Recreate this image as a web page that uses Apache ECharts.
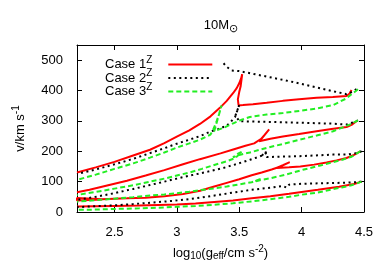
<!DOCTYPE html>
<html><head><meta charset="utf-8">
<script src="https://cdn.jsdelivr.net/npm/echarts@6/dist/echarts.min.js"></script>
<style>html,body{margin:0;padding:0;background:#fff}#c{width:390px;height:273px}</style>
</head><body><div id="c"></div>
<script>
const xTicks = [2.5, 3, 3.5, 4, 4.5];
const yTicks = [0, 100, 200, 300, 400, 500];
const caseNames = ['Case 1', 'Case 2', 'Case 3'];

// Case 1 (red, solid)
const case1_v400 = [[4.40,402],[4.385,390],[4.36,382],[4.25,379],[4.12,376],[3.98,371],[3.85,366],[3.72,360],[3.61,355],[3.53,352],[3.495,351],[3.489,371],[3.50,395],[3.511,413],[3.524,454],[3.515,440],[3.50,424],[3.48,408],[3.452,392],[3.40,366],[3.345,343],[3.27,315],[3.185,290],[3.10,269],[3.0,248],[2.9,227],[2.785,205],[2.65,186],[2.5,165],[2.35,147],[2.2,130]];
const case1_v300 = [[4.44,299],[4.40,287],[4.36,280],[4.24,273],[4.12,266],[3.98,257],[3.85,249],[3.75,241],[3.66,233],[3.70,252],[3.74,272],[3.68,242],[3.62,226],[3.55,218],[3.452,206],[3.35,193],[3.185,174],[3.05,157],[2.9,138],[2.75,120],[2.6,103],[2.45,88],[2.3,73],[2.2,65]];
const case1_v200 = [[4.47,200],[4.42,188],[4.36,178],[4.28,170],[4.2,163],[4.1,156],[3.99,150],[3.90,147],[3.80,145],[3.85,154],[3.905,164],[3.82,148],[3.76,140],[3.68,130],[3.6,121],[3.5,108],[3.4,96],[3.3,84],[3.186,70],[3.05,59],[2.9,52],[2.75,47],[2.6,45],[2.5,44],[2.4,42],[2.2,46],[2.2,38],[2.4,41]];
const case1_v100 = [[4.48,100],[4.42,92],[4.3,83],[4.13,73],[4.0,66],[3.9,60],[3.75,52],[3.6,45],[3.45,38],[3.3,33],[3.15,28],[3.0,25],[2.85,23],[2.7,21],[2.5,20],[2.35,19],[2.2,18]];

// Case 2 (black, dotted)
const case2_v400 = [[4.44,405],[4.40,395],[4.36,388],[4.25,398],[4.07,415],[3.9,431],[3.72,446],[3.6,456],[3.5,464],[3.44,466],[3.40,478],[3.37,492]];
const case2_v300 = [[4.452,302],[4.417,296],[4.359,288],[4.252,291],[3.985,294],[3.719,297],[3.50,299],[3.47,318],[3.50,352],[3.466,312],[3.43,296],[3.40,284],[3.33,273],[3.27,265],[3.186,250],[3.1,238],[3.0,225],[2.9,210],[2.785,194],[2.65,175],[2.5,157],[2.35,140],[2.2,125]];
const case2_v200 = [[4.48,200],[4.44,194],[4.36,189],[4.25,189],[3.985,184],[3.72,181],[3.68,190],[3.73,200],[3.70,188],[3.586,172],[3.48,158],[3.372,145],[3.25,133],[3.105,120],[3.0,110],[2.9,100],[2.785,89],[2.65,76],[2.5,62],[2.35,50],[2.2,40]];
const case2_v100 = [[4.48,100],[4.40,97],[4.2,95],[4.0,93],[3.9,90],[3.88,80],[3.85,86],[3.75,80],[3.6,73],[3.45,64],[3.33,56],[3.2,48],[3.07,41],[2.95,36],[2.8,31],[2.65,26],[2.5,22],[2.35,19],[2.2,16]];

// Case 3 (green, dashed)
const case3_v400 = [[4.452,404],[4.43,397],[4.40,388],[4.359,374],[4.30,362],[4.252,352],[4.12,341],[3.985,333],[3.85,326],[3.719,321],[3.585,313],[3.52,304],[3.452,292],[3.38,278],[3.30,266],[3.33,310],[3.359,351],[3.34,325],[3.32,300],[3.29,270],[3.27,255],[3.185,238],[3.1,226],[3.0,212],[2.9,196],[2.785,179],[2.65,160],[2.5,142],[2.35,123],[2.2,106]];
const case3_v300 = [[4.452,302],[4.42,295],[4.385,288],[4.32,277],[4.252,266],[4.12,252],[3.985,238],[3.85,224],[3.719,211],[3.585,196],[3.50,188],[3.45,180],[3.49,192],[3.52,198],[3.47,178],[3.4,167],[3.3,155],[3.2,142],[3.1,130],[3.0,120],[2.9,110],[2.785,100],[2.65,88],[2.5,77],[2.35,66],[2.2,56]];
const case3_v200 = [[4.47,200],[4.44,192],[4.40,182],[4.34,174],[4.28,167],[4.15,153],[4.01,139],[3.88,124],[3.75,111],[3.68,106],[3.62,100],[3.68,110],[3.60,98],[3.5,91],[3.4,84],[3.3,78],[3.186,72],[3.1,67],[3.0,62],[2.9,58],[2.785,54],[2.65,49],[2.5,44],[2.35,39],[2.2,34]];
const case3_v100 = [[4.48,100],[4.44,94],[4.40,88],[4.32,81],[4.25,75],[4.13,64],[4.0,57],[3.9,50],[3.75,42],[3.6,35],[3.45,29],[3.3,24],[3.15,20],[3.0,17],[2.85,14],[2.7,12],[2.5,10],[2.35,8],[2.2,7]];

const FONT = 'Liberation Sans';
const styles = {
  'Case 1': {color: '#ff0000', type: 'solid', width: 2},
  'Case 2': {color: '#000000', type: [2, 3.5], width: 2},
  'Case 3': {color: '#22ee22', type: [5, 3], width: 2}
};
function mk(name, data) {
  const s = styles[name];
  return {
    type: 'line', name: name, data: data, showSymbol: false, symbol: 'none',
    xAxisIndex: 0, yAxisIndex: 0, animation: false, silent: true,
    lineStyle: {color: s.color, type: s.type, width: s.width},
    itemStyle: {color: s.color}
  };
}
const series = [
  mk('Case 1', case1_v400), mk('Case 1', case1_v300), mk('Case 1', case1_v200), mk('Case 1', case1_v100),
  mk('Case 2', case2_v400), mk('Case 2', case2_v300), mk('Case 2', case2_v200), mk('Case 2', case2_v100),
  mk('Case 3', case3_v400), mk('Case 3', case3_v300), mk('Case 3', case3_v200), mk('Case 3', case3_v100)
];

const chart = echarts.init(document.getElementById('c'), null, {renderer: 'canvas'});
const axisCommon = {
  axisLine: {show: true, onZero: false, lineStyle: {color: '#000', width: 1}},
  splitLine: {show: false}
};
chart.setOption({
  animation: false,
  backgroundColor: '#fff',
  grid: {left: 77, right: 26, top: 45, bottom: 61},
  graphic: [{
    type: 'text', x: 221, y: 25,
    style: {
      text: '10M{s|⊙}', align: 'center', verticalAlign: 'middle',
      font: '13px "' + FONT + '"', fill: '#000',
      rich: {s: {fontSize: 11, fontFamily: FONT, padding: [8, 0, 0, 0], fill: '#000'}}
    }
  }],
  legend: {
    data: caseNames, orient: 'vertical', left: 100, top: 50, align: 'right',
    itemWidth: 44, itemHeight: 10, itemGap: -2.5,
    itemStyle: {opacity: 0},
    formatter: n => n + '{sup|Z}',
    textStyle: {fontFamily: FONT, fontSize: 13, color: '#000', padding: [0, 11, 0, 0],
      rich: {sup: {fontFamily: FONT, fontSize: 10, color: '#000', padding: [0, 0, 9, 0]}}}
  },
  xAxis: [
    Object.assign({}, axisCommon, {
      type: 'value', min: 2.2, max: 4.5, position: 'bottom',
      name: 'log{b|10}(g{b|eff}/cm s{p|-2})', nameLocation: 'middle', nameGap: 32,
      nameTextStyle: {fontFamily: FONT, fontSize: 13, color: '#000',
        rich: {b: {fontFamily: FONT, fontSize: 10, color: '#000', padding: [7, 0, 0, 0]},
               p: {fontFamily: FONT, fontSize: 10, color: '#000', padding: [0, 0, 8, 0]}}},
      axisTick: {show: true, inside: true, length: 5, customValues: xTicks, lineStyle: {color: '#000'}},
      axisLabel: {show: true, customValues: xTicks, margin: 14, color: '#000', fontFamily: FONT, fontSize: 13,
        formatter: v => String(v)}
    }),
    Object.assign({}, axisCommon, {
      type: 'value', min: 2.2, max: 4.5, position: 'top',
      axisTick: {show: true, inside: true, length: 5, customValues: xTicks, lineStyle: {color: '#000'}},
      axisLabel: {show: false}
    })
  ],
  yAxis: [
    Object.assign({}, axisCommon, {
      type: 'value', min: 0, max: 550, position: 'left',
      name: 'v/km s{p|-1}', nameLocation: 'middle', nameGap: 48, nameRotate: 90,
      nameTextStyle: {fontFamily: FONT, fontSize: 13, color: '#000',
        rich: {p: {fontFamily: FONT, fontSize: 10, color: '#000', padding: [0, 0, 8, 0]}}},
      axisTick: {show: true, inside: true, length: 5, customValues: yTicks, lineStyle: {color: '#000'}},
      axisLabel: {show: true, customValues: yTicks, margin: 14, color: '#000', fontFamily: FONT, fontSize: 13}
    }),
    Object.assign({}, axisCommon, {
      type: 'value', min: 0, max: 550, position: 'right',
      axisTick: {show: true, inside: true, length: 5, customValues: yTicks, lineStyle: {color: '#000'}},
      axisLabel: {show: false}
    })
  ],
  series: series
});
</script>
</body></html>
